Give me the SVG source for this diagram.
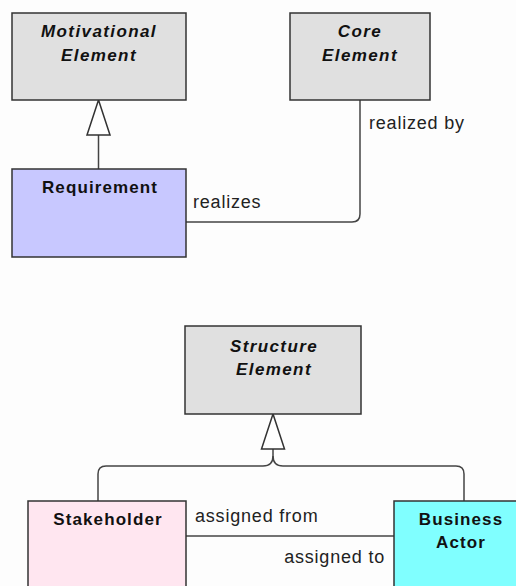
<svg xmlns="http://www.w3.org/2000/svg" width="516" height="586" viewBox="0 0 516 586">
<style>
.box{stroke:#333;stroke-width:1.5}
.abs{fill:#e0e0e0}
.t{font-family:"Liberation Sans",Arial,sans-serif;font-size:17px;fill:#111;text-anchor:middle}
.bi{font-weight:bold;font-style:italic;letter-spacing:1.4px}
.b{font-weight:bold;letter-spacing:1.1px}
.l{font-family:"Liberation Sans",Arial,sans-serif;font-size:18px;fill:#222;letter-spacing:0.8px}
.c{fill:none;stroke:#444;stroke-width:1.5}
.tri{fill:#fff;stroke:#333;stroke-width:1.5}
</style>
<rect width="516" height="586" fill="#fdfdfd"/>
<g id="connectors">
<path class="c" d="M98.5,135 V169"/>
<polygon class="tri" points="98.5,100 87,135 110,135"/>
<path class="c" d="M186,222 H352 Q360,222 360,214 V100"/>
<path class="c" d="M273,449 V456 Q273,466 263,466 H106 Q98,466 98,474 V501"/>
<path class="c" d="M273,456 Q273,466 283,466 H456 Q464,466 464,474 V501"/>
<polygon class="tri" points="273,414 261.5,449 284.5,449"/>
<path class="c" d="M186,536 H394"/>
<text class="l" x="193" y="208">realizes</text>
<text class="l" x="369" y="129">realized by</text>
<text class="l" x="195" y="522">assigned from</text>
<text class="l" x="385" y="563" text-anchor="end">assigned to</text>
</g>
<g id="motivational-element">
<rect class="box abs" x="12" y="13" width="174" height="87"/>
<text class="t bi" x="99" y="37">Motivational</text>
<text class="t bi" x="99" y="61">Element</text>
</g>
<g id="core-element">
<rect class="box abs" x="290" y="13" width="140" height="87"/>
<text class="t bi" x="360" y="37">Core</text>
<text class="t bi" x="360" y="61">Element</text>
</g>
<g id="requirement">
<rect class="box" fill="#c8c8ff" x="12" y="169" width="174" height="88"/>
<text class="t b" x="100" y="193">Requirement</text>
</g>
<g id="structure-element">
<rect class="box abs" x="185" y="326" width="176" height="88"/>
<text class="t bi" x="274" y="352">Structure</text>
<text class="t bi" x="274" y="375">Element</text>
</g>
<g id="stakeholder">
<rect class="box" fill="#ffe6f0" x="28" y="501" width="158" height="100"/>
<text class="t b" x="108" y="525">Stakeholder</text>
</g>
<g id="business-actor">
<rect class="box" fill="#80ffff" x="394" y="501" width="158" height="100"/>
<text class="t b" x="461" y="525">Business</text>
<text class="t b" x="461" y="548">Actor</text>
</g>
</svg>
